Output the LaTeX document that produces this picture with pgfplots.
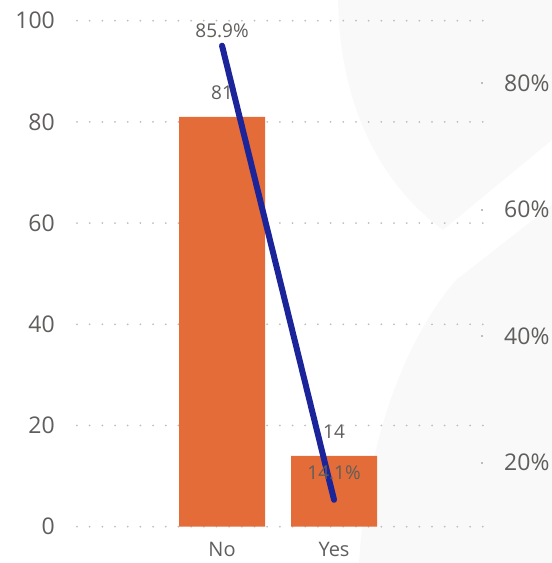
\documentclass[border=0pt]{standalone}
\usepackage{fontspec}
\setmainfont{Open Sans}
\usepackage{pgfplots}
\pgfplotsset{compat=1.18}
\usepackage{pgfplotstable}
\pgfplotsset{/pgf/number format/assume math mode=true}
\definecolor{barorange}{HTML}{E46C38}
\definecolor{linenavy}{HTML}{1B2599}
\definecolor{txtgray}{HTML}{605E5C}
\definecolor{gridgray}{HTML}{BEBEBE}
\definecolor{wmgray}{HTML}{F9F9F9}

% counts per answer
\pgfplotstableread{
x cnt
0 81
1 14
}\counts
% share per answer, dy = label lift
\pgfplotstableread{
x pct dy
0 85.9 5
1 14.1 17
}\shares

\begin{document}
\begin{tikzpicture}
\path[use as bounding box] (-77pt,-36.3pt) rectangle (475pt,526.7pt);
% faint background shapes
\fill[wmgray] (261pt,526.7pt) .. controls (263pt,400pt) and (320pt,330pt) .. (366pt,296.7pt) -- (475pt,386.7pt) -- (475pt,526.7pt) -- cycle;
\fill[wmgray] (282pt,-36.3pt) .. controls (290pt,90pt) and (330pt,190pt) .. (379pt,246.7pt) -- (475pt,321.7pt) -- (475pt,-36.3pt) -- cycle;

\begin{axis}[
  scale only axis, width=406pt, height=506pt,
  xmin=-1.295, xmax=2.33, ymin=0, ymax=100,
  axis line style={draw=none}, major tick length=0pt,
  xtick={0,1}, xticklabels={No,Yes},
  ytick={0,20,...,100},
  ymajorgrids,
  grid style={gridgray, line width=2pt, dash pattern=on 0pt off 12.68pt, line cap=round},
  yticklabel style={font=\fontsize{23}{23}\selectfont, text=txtgray, inner sep=0pt, anchor=east, xshift=-22pt},
  xticklabel style={font=\fontsize{20}{20}\selectfont, text=txtgray, inner sep=0pt, anchor=base, yshift=-30pt},
]
\addplot[ybar, bar width=86pt, fill=barorange, draw=none,
  nodes near coords,
  every node near coord/.append style={font=\fontsize{19}{19}\selectfont, text=txtgray, inner sep=0pt, anchor=south, yshift=17pt}]
  table[x=x, y=cnt] {\counts};
\end{axis}

\begin{axis}[
  scale only axis, width=406pt, height=506pt,
  xmin=-1.295, xmax=2.33, ymin=9.85, ymax=89.85,
  axis y line*=right, axis x line=none,
  axis line style={draw=none},
  xtick=\empty,
  ytick={20,40,60,80}, yticklabel={\pgfmathprintnumber{\tick}\%},
  tick align=inside, major tick length=2pt,
  ytick style={gridgray, line width=2pt},
  yticklabel style={font=\fontsize{23}{23}\selectfont, text=txtgray, inner sep=0pt, anchor=west, xshift=21pt},
]
\addplot[linenavy, line width=6pt, line cap=round, mark=none,
  point meta=explicit,
  visualization depends on={\thisrow{dy} \as \dy},
  nodes near coords={\pgfmathprintnumber[fixed,precision=1,fixed zerofill]{\pgfplotspointmeta}\%},
  every node near coord/.append style={font=\fontsize{19}{19}\selectfont, text=txtgray, inner sep=0pt, anchor=south, yshift=\dy pt}]
  table[x=x, y=pct, meta=pct] {\shares};
\end{axis}
\end{tikzpicture}
\end{document}
